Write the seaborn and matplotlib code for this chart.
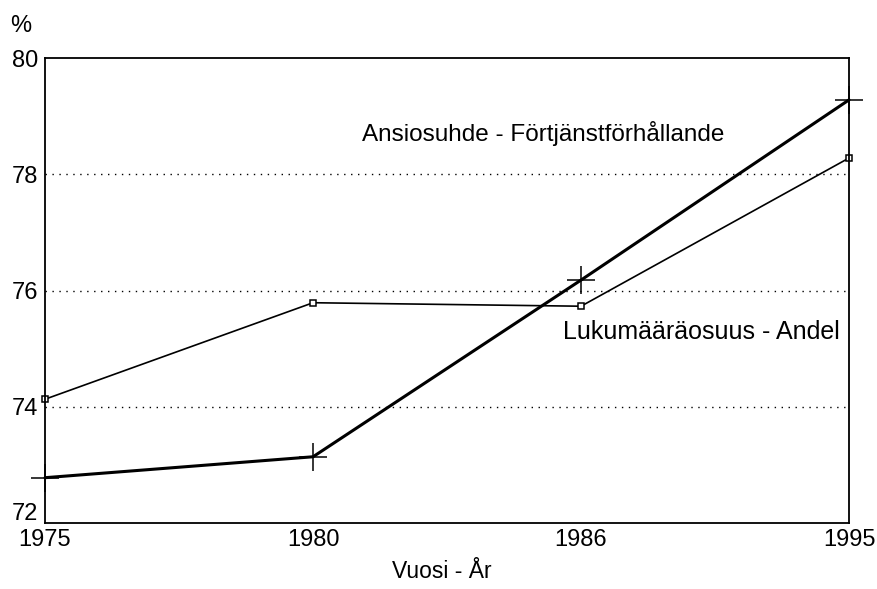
import matplotlib
matplotlib.use("Agg")
import matplotlib.pyplot as plt
import matplotlib.transforms as mtransforms
import seaborn as sns
import pandas as pd

years = ["1975", "1980", "1986", "1995"]
ansiosuhde = [72.78, 73.14, 76.18, 79.28]
lukumaara = [74.13, 75.79, 75.73, 78.28]

sns.set_style("white")
plt.rcParams["font.family"] = ["Liberation Sans", "DejaVu Sans"]
plt.rcParams["text.color"] = "black"
plt.rcParams["xtick.color"] = "black"
plt.rcParams["ytick.color"] = "black"

fig = plt.figure(figsize=(8.78, 5.89), dpi=100)
ax = fig.add_axes([0.0513, 0.112, 0.9157, 0.7895])

df = pd.DataFrame({"Vuosi": years, "ansio": ansiosuhde, "luku": lukumaara})
x = list(range(len(years)))

sns.lineplot(x=x, y=df["luku"], ax=ax, color="black", linewidth=1.2,
             marker="s", markersize=5, markerfacecolor="white",
             markeredgecolor="black", markeredgewidth=1.1, clip_on=False)
sns.lineplot(x=x, y=df["ansio"], ax=ax, color="black", linewidth=2.2,
             marker="+", markersize=20, markeredgecolor="black",
             markeredgewidth=1.1, clip_on=False)

ax.set_xlim(0, len(years) - 1)
ax.set_ylim(72, 80)
ax.set_xticks(x)
ax.set_xticklabels(years)
ax.set_yticks([72, 74, 76, 78, 80])
ax.set_yticklabels(["72", "74", "76", "78", "80"])
ax.tick_params(axis="y", length=0, labelsize=17, pad=5)
ax.tick_params(axis="x", length=0, labelsize=17, pad=4)
# lift the bottom "72" a bit so it sits above "1975"
lab72 = ax.get_yticklabels()[0]
lab72.set_transform(lab72.get_transform() +
                    mtransforms.ScaledTranslation(0, 12 / 100, fig.dpi_scale_trans))
for yv in [74, 76, 78]:
    ax.axhline(yv, color="black", linestyle=(0, (1, 4)), linewidth=1)

for s in ax.spines.values():
    s.set_color("black")
    s.set_linewidth(1.3)

ax.set_xlabel("")
ax.set_ylabel("")
fig.text(0.503, 0.03, "Vuosi - År", fontsize=16.5, ha="center", va="center")
fig.text(0.012, 0.945, "%", fontsize=17)

ax.text(1.858, 78.71, "Ansiosuhde - Förtjänstförhållande", fontsize=17.5,
        ha="center", va="center")
ax.text(2.448, 75.29, "Lukumääräosuus - Andel", fontsize=18,
        ha="center", va="center")

fig.savefig("out.png", dpi=100)
